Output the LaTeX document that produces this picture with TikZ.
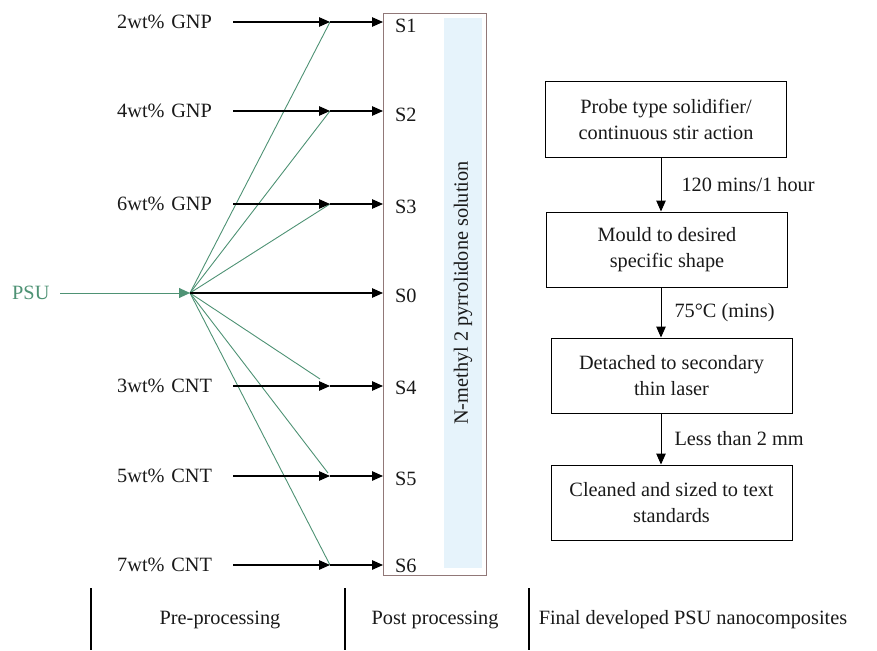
\documentclass[tikz,border=0pt]{standalone}
\usepackage{fontspec}
\setmainfont{Liberation Serif}
\usetikzlibrary{arrows.meta,positioning}
\definecolor{psugreen}{RGB}{78,146,116}
\definecolor{boxline}{RGB}{145,120,120}
\definecolor{nmpblue}{RGB}{230,243,251}
\tikzset{
    every node/.append style={
        font=\fontsize{20.3}{26}\selectfont,
        text=black!90,
        inner sep=0pt
    },
    feed/.style={
        anchor=west,
        text width=116pt,
        align=left,
    },
    sample/.style={
        anchor=west,
    },
    proc/.style={
        draw,
        line width=1pt,
        minimum width=241pt,
        minimum height=75pt,
        align=center,
    },
    arr/.style={
        draw,
        line width=1.2pt,
        -{Triangle[length=11pt,width=9.5pt]},
    },
    mix/.style={
        draw=psugreen,
        line width=0.9pt,
    },
    phase/.style={
        line width=1.2pt,
    }
}

\begin{document}
\begin{tikzpicture}[x=1pt,y=-1pt]
    \useasboundingbox (0,0) rectangle (877,650);

    % feeds
    \node[feed] (gnp2) at (117,22) {2wt\% GNP};
    \node[feed] (gnp4) at (117,111) {4wt\% GNP};
    \node[feed] (gnp6) at (117,204) {6wt\% GNP};
    \node[feed, text width=48pt, text=psugreen] (psu) at (12,293) {PSU};
    \node[feed] (cnt3) at (117,386) {3wt\% CNT};
    \node[feed] (cnt5) at (117,476) {5wt\% CNT};
    \node[feed] (cnt7) at (117,565) {7wt\% CNT};

    \coordinate (hub) at (190,293);
    \coordinate (j1) at (330,22);
    \coordinate (j2) at (330,111);
    \coordinate (j3) at (330,204);
    \coordinate (j4) at (330,386);
    \coordinate (j5) at (330,476);
    \coordinate (j6) at (330,565);
    \coordinate (g4) at (320,379);
    \coordinate (g5) at (328,473);

    % solvent box
    \node[draw=boxline, line width=1.2pt, minimum width=103pt, minimum height=562pt,
          anchor=north west] (nmp) at (383,13) {};
    \node[fill=nmpblue, rotate=90, minimum width=550pt, minimum height=38pt]
          (sol) at (463,293) {N-methyl 2 pyrrolidone solution};

    \node[sample] (s1) at (395,26) {S1};
    \node[sample] (s2) at (395,115) {S2};
    \node[sample] (s3) at (395,207) {S3};
    \node[sample] (s0) at (395,296) {S0};
    \node[sample] (s4) at (395,388) {S4};
    \node[sample] (s5) at (395,479) {S5};
    \node[sample] (s6) at (395,566) {S6};

    % PSU mixing lines
    \draw[mix, -{Triangle[length=11pt,width=10pt]}] (psu) -- (hub);
    \foreach \g in {j1,j2,j3,g4,g5,j6}
        \draw[mix] (hub) -- (\g);

    \foreach \f/\j in {gnp2/j1,gnp4/j2,gnp6/j3,cnt3/j4,cnt5/j5,cnt7/j6}{
        \draw[arr] (\f) -- (\j);
        \draw[arr] (\j) -- (\j -| nmp.west);
    }
    \draw[arr] (hub) -- (hub -| nmp.west);

    % final stage
    \node[proc] (probe) at (666,119.5) {Probe type solidifier/\\continuous stir action};
    \node[proc, below=54pt of probe, xshift=1pt] (mould) {Mould to desired\\specific shape};
    \node[proc, below=50pt of mould, xshift=4.5pt] (detach) {Detached to secondary\\thin laser};
    \node[proc, below=51pt of detach] (clean) {Cleaned and sized to text\\standards};

    \coordinate (ax) at (661,0);
    \draw[arr, line width=1pt] (probe.south -| ax) -- node[right=20pt] {120 mins/1 hour} (mould.north -| ax);
    \draw[arr, line width=1pt] (mould.south -| ax) -- node[right=13pt] {75°C (mins)} (detach.north -| ax);
    \draw[arr, line width=1pt] (detach.south -| ax) -- node[right=13pt] {Less than 2 mm} (clean.north -| ax);

    % phases
    \draw[phase] (91,588) -- (91,650);
    \draw[phase] (345,588) -- (345,650);
    \draw[phase] (529,588) -- (529,650);
    \node (pre) at (220,620) {Pre-processing};
    \node (post) at (435,620) {Post processing};
    \node (final) at (693,620) {Final developed PSU nanocomposites};
\end{tikzpicture}
\end{document}
